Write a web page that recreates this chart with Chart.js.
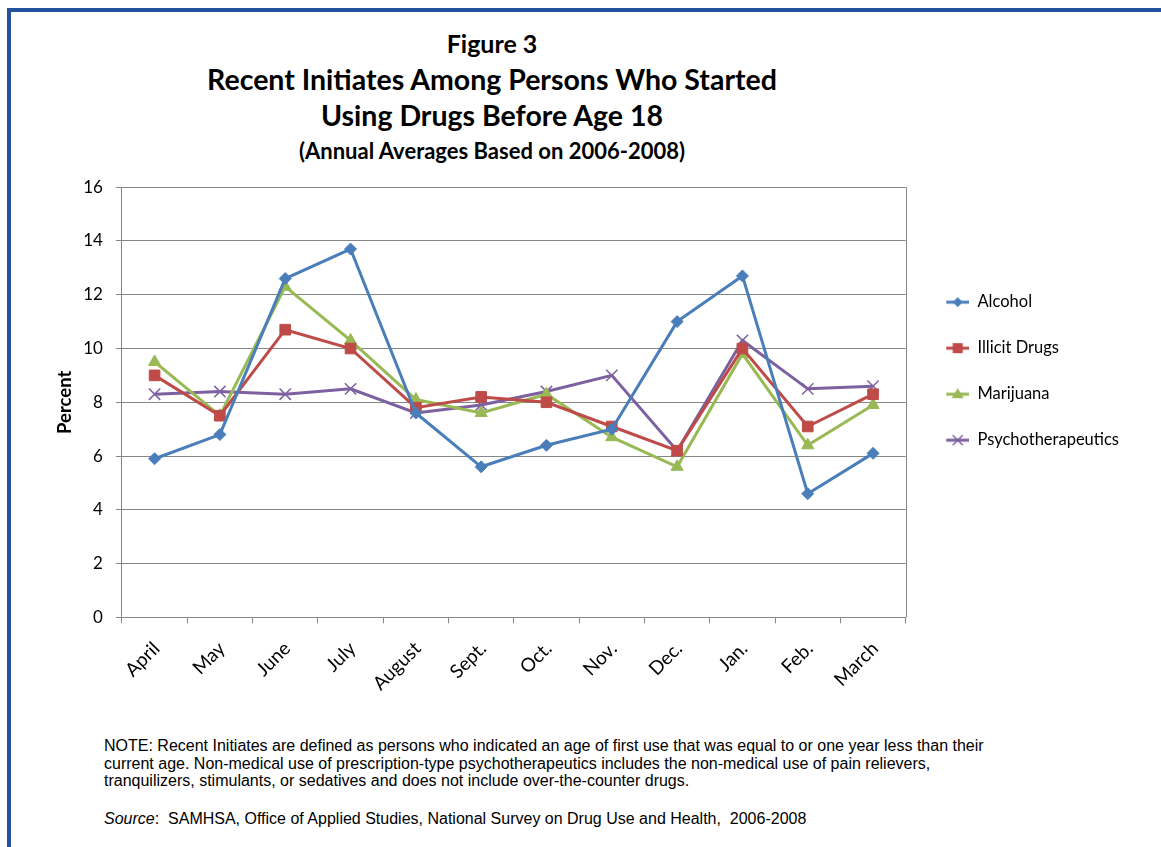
<!DOCTYPE html>
<html>
<head>
<meta charset="utf-8">
<script src="https://cdn.jsdelivr.net/npm/chart.js@4/dist/chart.umd.min.js"></script>
<style>
  html, body { margin: 0; padding: 0; background: #fff; }
  body { width: 1161px; height: 847px; overflow: hidden; position: relative; font-family: Lato, "Noto Sans", sans-serif; }
  .frame { position: absolute; left: 7px; top: 8px; width: 1200px; height: 900px; border-left: 4px solid #24519b; border-top: 4px solid #24519b; }
  .ttl { position: absolute; left: 0; width: 984px; text-align: center; font-weight: bold; color: #000; line-height: 1; white-space: nowrap; }
  #wrap { position: absolute; left: 40px; top: 164px; width: 1110px; height: 545px; }
  .note { position: absolute; left: 104px; font-family: "Liberation Sans Narrow", "Arial Narrow", "Liberation Sans", sans-serif; font-size: 16px; color: #000; line-height: 17.5px; white-space: nowrap; }
</style>
</head>
<body>
<div class="frame"></div>
<div class="ttl" style="top:31px;font-size:25px;">Figure 3</div>
<div class="ttl" style="top:65px;font-size:28.5px;">Recent Initiates Among Persons Who Started</div>
<div class="ttl" style="top:101px;font-size:28.5px;">Using Drugs Before Age 18</div>
<div class="ttl" style="top:140px;font-size:22px;">(Annual Averages Based on 2006-2008)</div>
<div id="wrap"><canvas id="chart"></canvas></div>
<div class="note" style="top:737px;">NOTE: Recent Initiates are defined as persons who indicated an age of first use that was equal to or one year less than their<br>current age. Non-medical use of prescription-type psychotherapeutics includes the non-medical use of pain relievers,<br>tranquilizers, stimulants, or sedatives and does not include over-the-counter drugs.</div>
<div class="note" style="top:810px;"><i>Source</i>:&nbsp; SAMHSA, Office of Applied Studies, National Survey on Drug Use and Health,&nbsp; 2006-2008</div>
<script>
'use strict';

const months = ['April', 'May', 'June', 'July', 'August', 'Sept.', 'Oct.', 'Nov.', 'Dec.', 'Jan.', 'Feb.', 'March'];

const alcohol = [5.9, 6.8, 12.6, 13.7, 7.6, 5.6, 6.4, 7.0, 11.0, 12.7, 4.6, 6.1];
const illicitDrugs = [9.0, 7.5, 10.7, 10.0, 7.8, 8.2, 8.0, 7.1, 6.2, 10.0, 7.1, 8.3];
const marijuana = [9.5, 7.5, 12.3, 10.3, 8.1, 7.6, 8.3, 6.7, 5.6, 9.8, 6.4, 7.9];
const psychotherapeutics = [8.3, 8.4, 8.3, 8.5, 7.6, 7.9, 8.4, 9.0, 6.2, 10.3, 8.5, 8.6];

const yTicks = { min: 0, max: 16, step: 2 };

const series = [
  { label: 'Alcohol', data: alcohol, color: '#4a7ebb', style: 'rectRot', radius: 6, pbw: 1 },
  { label: 'Illicit Drugs', data: illicitDrugs, color: '#be4b48', style: 'rect', radius: 7.5, pbw: 1 },
  { label: 'Marijuana', data: marijuana, color: '#98b954', style: 'triangle', radius: 7, pbw: 1 },
  { label: 'Psychotherapeutics', data: psychotherapeutics, color: '#7d60a0', style: 'crossRot', radius: 8, pbw: 1.5 }
];

// small line-plus-marker swatch used as the legend point style
function legendIcon(s) {
  const c = document.createElement('canvas');
  c.width = 34;
  c.height = 16;
  const g = c.getContext('2d');
  const cx = 22.5, cy = 8;
  g.strokeStyle = s.color;
  g.fillStyle = s.color;
  g.lineWidth = 3;
  g.beginPath();
  g.moveTo(11, cy);
  g.lineTo(34, cy);
  g.stroke();
  g.beginPath();
  if (s.style === 'rectRot') {
    g.moveTo(cx, cy - 5); g.lineTo(cx + 5, cy); g.lineTo(cx, cy + 5); g.lineTo(cx - 5, cy);
    g.closePath(); g.fill();
  } else if (s.style === 'rect') {
    g.fillRect(cx - 5, cy - 5, 10, 10);
  } else if (s.style === 'triangle') {
    g.moveTo(cx, cy - 6); g.lineTo(cx + 6, cy + 4); g.lineTo(cx - 6, cy + 4);
    g.closePath(); g.fill();
  } else {
    g.lineWidth = 1.5;
    g.moveTo(cx - 5, cy - 5); g.lineTo(cx + 5, cy + 5);
    g.moveTo(cx + 5, cy - 5); g.lineTo(cx - 5, cy + 5);
    g.stroke();
  }
  return c;
}

const icons = series.map(legendIcon);

// right edge of the plot frame
const plotFrame = {
  id: 'plotFrame',
  afterDatasetsDraw(chart) {
    const { ctx, chartArea: a } = chart;
    ctx.save();
    ctx.strokeStyle = '#868686';
    ctx.lineWidth = 1;
    ctx.beginPath();
    ctx.moveTo(Math.round(a.right) + 0.5, a.top);
    ctx.lineTo(Math.round(a.right) + 0.5, a.bottom);
    ctx.stroke();
    ctx.restore();
  }
};

const ctx = document.getElementById('chart').getContext('2d');
new Chart(ctx, {
  type: 'line',
  data: {
    labels: months,
    datasets: series.map(s => ({
      label: s.label,
      data: s.data,
      borderColor: s.color,
      backgroundColor: s.color,
      borderWidth: 3,
      pointStyle: s.style,
      pointRadius: s.radius,
      pointHoverRadius: s.radius,
      pointBackgroundColor: s.color,
      pointBorderColor: s.color,
      pointBorderWidth: s.pbw,
      tension: 0,
      fill: false
    }))
  },
  options: {
    responsive: true,
    maintainAspectRatio: false,
    animation: false,
    layout: { padding: { top: 0, right: 21, bottom: 0, left: 0 } },
    plugins: {
      title: { display: false },
      tooltip: { enabled: false },
      legend: {
        display: true,
        position: 'right',
        align: 'start',
        title: { display: true, text: '', padding: { top: 86, bottom: 0 } },
        labels: {
          color: '#000',
          font: { family: 'Lato', size: 16.5 },
          padding: 29.5,
          usePointStyle: true,
          pointStyleWidth: 34,
          generateLabels: (chart) => {
            const items = Chart.defaults.plugins.legend.labels.generateLabels(chart);
            return items.map((it, i) => Object.assign(it, { pointStyle: icons[i] }));
          }
        }
      }
    },
    scales: {
      x: {
        offset: true,
        grid: { display: true, drawOnChartArea: false, offset: true, drawTicks: true, tickLength: 6, color: '#868686' },
        border: { display: true, color: '#868686', width: 1 },
        ticks: {
          color: '#000',
          font: { family: 'Lato', size: 19 },
          minRotation: 45,
          maxRotation: 45,
          autoSkip: false,
          padding: 14,
          labelOffset: 2
        }
      },
      y: {
        min: yTicks.min,
        max: yTicks.max,
        grid: { color: '#868686', lineWidth: 1, drawTicks: true, tickLength: 6 },
        border: { display: true, color: '#868686', width: 1 },
        ticks: {
          stepSize: yTicks.step,
          color: '#000',
          font: { family: 'Lato', size: 17 },
          padding: 13
        },
        title: {
          display: true,
          text: 'Percent',
          color: '#000',
          font: { family: 'Lato', size: 18.5, weight: 'bold' },
          padding: { top: 14, bottom: -6 }
        }
      }
    }
  },
  plugins: [plotFrame]
});
</script>
</body>
</html>
